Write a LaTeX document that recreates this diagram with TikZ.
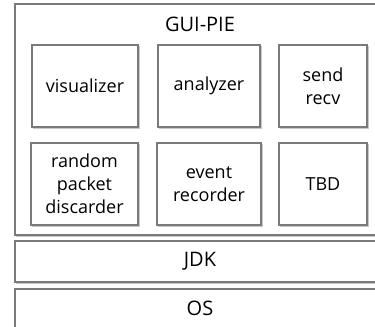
\documentclass[tikz,border=0pt]{standalone}
\usepackage{fontspec}
\setmainfont{Open Sans}
\definecolor{edge}{HTML}{7A7A7A}
\definecolor{shade}{HTML}{C8C8C8}
\tikzset{
  layer/.style={draw=edge, line width=0.9pt, fill=white,
    preaction={draw=shade, line width=0.9pt, transform canvas={shift={(0.9pt,-0.9pt)}}}},
  module/.style={layer, align=center, inner sep=0pt,
    font=\fontsize{13.5}{17.25}\selectfont},
  caption/.style={font=\fontsize{15}{18}\selectfont, inner sep=0pt}
}
\begin{document}
\begin{tikzpicture}[x=0.75pt, y=-0.75pt]
  \useasboundingbox (0,0) rectangle (375,327);
  \clip (0,0) rectangle (375,327);
  % layers
  \draw[layer] (15,4) rectangle (386,235);
  \node[caption] (gui) at (200,24) {GUI-PIE};
  \draw[layer] (15,241) rectangle (386,282);
  \node[caption] (jdk) at (200,261) {JDK};
  \draw[layer] (15,289) rectangle (386,332);
  \node[caption] (os) at (200,308) {OS};
  % modules of GUI-PIE
  \node[module, minimum width=79.5pt, minimum height=61.5pt] (vis) at (85,86) {visualizer};
  \node[module, minimum width=76.5pt, minimum height=61.5pt] (ana) at (209,86) {analyzer};
  \node[module, minimum width=66pt, minimum height=61.5pt] (sr) at (323,86) {send\\recv};
  \node[module, minimum width=80.25pt, minimum height=61.5pt] (rpd) at (84.5,184) {random\\packet\\discarder};
  \node[module, minimum width=78pt, minimum height=61.5pt] (evr) at (209,184) {event\\recorder};
  \node[module, minimum width=66pt, minimum height=61.5pt] (tbd) at (323,184) {TBD};
\end{tikzpicture}
\end{document}
